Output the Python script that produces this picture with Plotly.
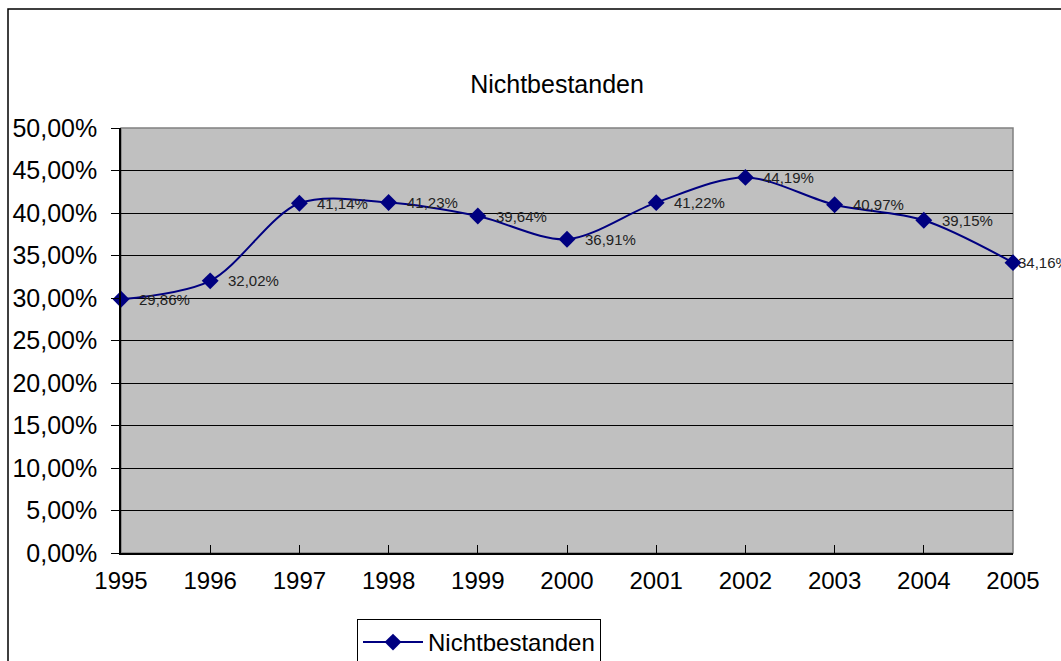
import plotly.graph_objects as go

years = [1995, 1996, 1997, 1998, 1999, 2000, 2001, 2002, 2003, 2004, 2005]
values = [29.86, 32.02, 41.14, 41.23, 39.64, 36.91, 41.22, 44.19, 40.97, 39.15, 34.16]
labels = ["29,86%", "32,02%", "41,14%", "41,23%", "39,64%", "36,91%",
          "41,22%", "44,19%", "40,97%", "39,15%", "34,16%"]
series_name = "Nichtbestanden"
y_ticks = [0, 5, 10, 15, 20, 25, 30, 35, 40, 45, 50]
y_tick_text = ["0,00%", "5,00%", "10,00%", "15,00%", "20,00%", "25,00%",
               "30,00%", "35,00%", "40,00%", "45,00%", "50,00%"]

navy = "#000080"
FONT = "Arial, Liberation Sans, sans-serif"

fig = go.Figure()
fig.add_trace(go.Scatter(
    x=years, y=values, name=series_name, mode="lines+markers",
    line=dict(color=navy, width=2, shape="spline", smoothing=0.9),
    marker=dict(symbol="diamond", size=13, color=navy),
    cliponaxis=False,
))

for i, (x, y, t) in enumerate(zip(years, values, labels)):
    shift = 3 if i == len(years) - 1 else 16
    fig.add_annotation(x=x, y=y, text=t, showarrow=False, xanchor="left",
                       yanchor="middle", xshift=shift, yshift=0,
                       font=dict(family=FONT, size=15, color="#222222"))

# plot frame (gray top/right border)
fig.add_shape(type="rect", xref="paper", yref="paper", x0=0, y0=0, x1=1, y1=1,
              line=dict(color="#808080", width=1.5), layer="below")
# outer chart border
fig.add_shape(type="rect", xref="paper", yref="paper",
              x0=(8 - 121) / 892, x1=(1075 - 121) / 892,
              y0=(553 - 675) / 425, y1=(553 - 9) / 425,
              line=dict(color="#000000", width=1.5))

fig.update_layout(
    width=1061, height=661,
    margin=dict(l=121, r=48, t=128, b=108, autoexpand=False),
    paper_bgcolor="white", plot_bgcolor="#C0C0C0",
    font=dict(family=FONT, size=24, color="#000000"),
    title=dict(text="Nichtbestanden", x=557 / 1061, xanchor="center",
               y=1 - 84 / 661, yanchor="middle",
               font=dict(family=FONT, size=25, color="#000000")),
    showlegend=True,
    legend=dict(orientation="h", x=(357 - 121) / 892, y=1 - 619 / 661,
                yref="container", xanchor="left", yanchor="top",
                bordercolor="#000000", borderwidth=1, bgcolor="white",
                itemwidth=60, font=dict(family=FONT, size=24)),
)
fig.update_xaxes(range=[1995, 2005], tickvals=years, ticktext=[str(y) for y in years],
                 showgrid=False, zeroline=False, showline=True, linecolor="#000000",
                 linewidth=1.5, ticks="inside", ticklen=8, tickcolor="#000000",
                 ticklabelstandoff=5,
                 tickfont=dict(family=FONT, size=24))
fig.update_yaxes(range=[0, 50], tickvals=y_ticks, ticktext=y_tick_text,
                 showgrid=True, gridcolor="#000000", gridwidth=1, zeroline=False,
                 showline=True, linecolor="#000000", linewidth=1.5,
                 ticks="outside", ticklen=8, tickcolor="#000000",
                 ticklabelstandoff=9,
                 tickfont=dict(family=FONT, size=25))

fig.write_html("out.html", config={"displayModeBar": False},
               post_script="document.body.style.margin='0';document.body.style.overflow='hidden';")
